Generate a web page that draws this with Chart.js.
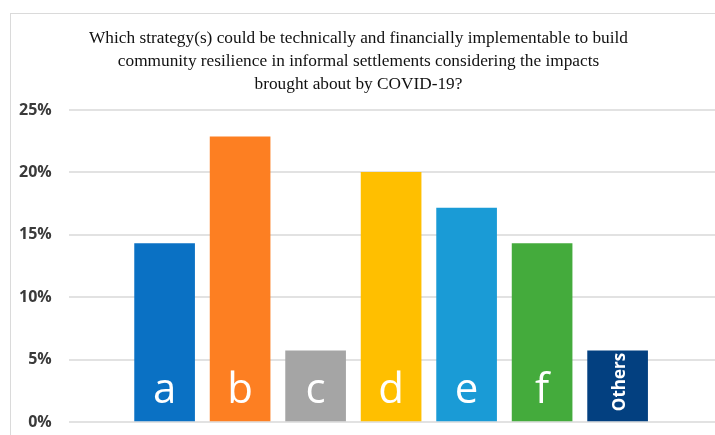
<!DOCTYPE html>
<html>
<head>
<meta charset="utf-8">
<script src="https://cdn.jsdelivr.net/npm/chart.js@4/dist/chart.umd.min.js"></script>
<style>
  body { margin: 0; background: #fff; overflow: hidden; }
  #wrap { width: 715px; height: 435px; position: relative; }
</style>
</head>
<body>
<div id="wrap"><canvas id="Canvas1"></canvas></div>
<script>
// survey answers, share of respondents (%)
var categories = ['a', 'b', 'c', 'd', 'e', 'f', 'Others'];
var shares = [14.29, 22.86, 5.71, 20.0, 17.14, 14.29, 5.71];
var barColors = ['#0a71c4', '#fd7f22', '#a5a5a5', '#ffbf00', '#1a9bd6', '#44ab3c', '#034080'];
var yTicks = [0, 5, 10, 15, 20, 25];
var titleLines = [
    'Which strategy(s) could be technically and financially implementable to build',
    'community resilience in informal settlements considering the impacts',
    'brought about by COVID-19?'
];

var points = categories.map(function (c, i) {
    return { x: i, y: shares[i] };
});

// grey frame round the chart
var framePlugin = {
    id: 'frame',
    beforeDraw: function (chart) {
        var ctx = chart.ctx;
        ctx.save();
        ctx.fillStyle = '#fff';
        ctx.fillRect(0, 0, chart.width, chart.height);
        ctx.strokeStyle = '#dadada';
        ctx.lineWidth = 1;
        ctx.strokeRect(10.5, 13.5, 800, 500);
        ctx.restore();
    }
};

// letters written inside the bars
var barLabels = {
    id: 'barLabels',
    afterDatasetsDraw: function (chart) {
        var ctx = chart.ctx;
        var meta = chart.getDatasetMeta(0);
        var bottom = chart.scales.y.getPixelForValue(0);
        ctx.save();
        ctx.fillStyle = '#fff';
        meta.data.forEach(function (bar, i) {
            var txt = categories[i];
            if (txt.length > 1) {
                ctx.save();
                ctx.translate(bar.x + 7, bottom - 40);
                ctx.rotate(-Math.PI / 2);
                ctx.font = 'bold 17px "Open Sans"';
                ctx.textAlign = 'center';
                ctx.textBaseline = 'alphabetic';
                ctx.fillText(txt, 0, 0);
                ctx.restore();
            } else {
                ctx.font = '42px "Open Sans"';
                ctx.textAlign = 'center';
                ctx.textBaseline = 'alphabetic';
                ctx.fillText(txt, bar.x, bottom - 19);
            }
        });
        ctx.restore();
    }
};

var GKChart = document.getElementById('Canvas1').getContext('2d');

var myChart = new Chart(GKChart, {
    type: 'bar',
    data: {
        datasets: [{
            label: 'Share',
            data: points,
            backgroundColor: barColors,
            borderWidth: 0,
            barThickness: 60
        }]
    },
    options: {
        responsive: true,
        maintainAspectRatio: false,
        animation: false,
        layout: { padding: { left: 2, right: 0, top: 0, bottom: 0 } },
        plugins: {
            legend: { display: false },
            tooltip: { enabled: false },
            title: {
                display: true,
                text: titleLines,
                color: '#111',
                font: { family: '"Liberation Serif"', size: 17.3, weight: 'normal', lineHeight: 1.33 },
                padding: { top: 27, bottom: 14 }
            }
        },
        scales: {
            x: {
                type: 'linear',
                offset: false,
                min: -1.27,
                max: 7.29,
                display: false
            },
            y: {
                min: 0,
                max: 25,
                afterBuildTicks: function (axis) {
                    axis.ticks = yTicks.map(function (v) { return { value: v }; });
                },
                // tick padding would otherwise also pad top and bottom
                afterFit: function (axis) {
                    axis.paddingTop = 8;
                    axis.paddingBottom = 13;
                },
                border: { display: false },
                grid: { color: '#e2e2e2', lineWidth: 2, drawTicks: false },
                ticks: {
                    padding: 17,
                    color: '#3a3a3a',
                    font: { family: '"Open Sans"', size: 16, weight: 'bold' },
                    callback: function (v) { return v + '%'; }
                }
            }
        }
    },
    plugins: [framePlugin, barLabels]
});
</script>
</body>
</html>
